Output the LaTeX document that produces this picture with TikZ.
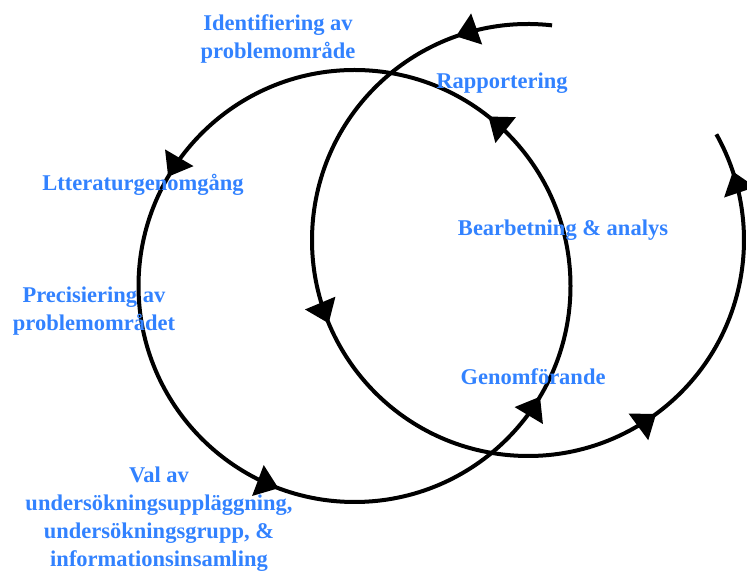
\documentclass[tikz,border=0pt]{standalone}
\usepackage{fontspec}
\setmainfont{Liberation Serif}
\usetikzlibrary{arrows.meta,decorations.markings}
\definecolor{lblue}{HTML}{3282FF}
\begin{document}
\begin{tikzpicture}[x=1pt,y=1pt,
  cyc/.style={line width=4pt, black},
  arrowat/.style={postaction={decorate,decoration={markings,
      mark=at position #1 with {\arrow{Triangle[length=22pt,width=32pt]}}}}},
  lbl/.style={text=lblue, font=\fontsize{22.5}{28}\selectfont\bfseries,
      align=center, inner sep=0pt}]
\useasboundingbox (0,0) rectangle (747,575);

% first cycle: a closed loop
\coordinate (lc) at (354.5,289);
\draw[cyc, arrowat=0.1436, arrowat=0.4156, arrowat=0.6928, arrowat=0.9144]
  (lc) ++(0:216pt) arc[start angle=0, end angle=360, radius=216pt];

% second cycle: an open turn that continues the spiral
\coordinate (rc) at (528,335);
\draw[cyc, arrowat=0.0847, arrowat=0.3896, arrowat=0.7288, arrowat=0.9647]
  (rc) ++(83.6:216pt) arc[start angle=83.6, end angle=389.3, radius=216pt];

% stages of the process
\node[lbl] (ident) at (278,536) {Identifiering av\\problemområde};
\node[lbl] (rapp) at (502,492) {Rapportering};
\node[lbl] (litt) at (143,390) {Ltteraturgenomgång};
\node[lbl] (bearb) at (563,345) {Bearbetning \& analys};
\node[lbl] (prec) at (94,264) {Precisiering av\\problemområdet};
\node[lbl] (genom) at (533,198) {Genomförande};
\node[lbl] (val) at (159,56) {Val av\\undersökningsuppläggning,\\undersökningsgrupp, \&\\informationsinsamling};
\end{tikzpicture}
\end{document}
